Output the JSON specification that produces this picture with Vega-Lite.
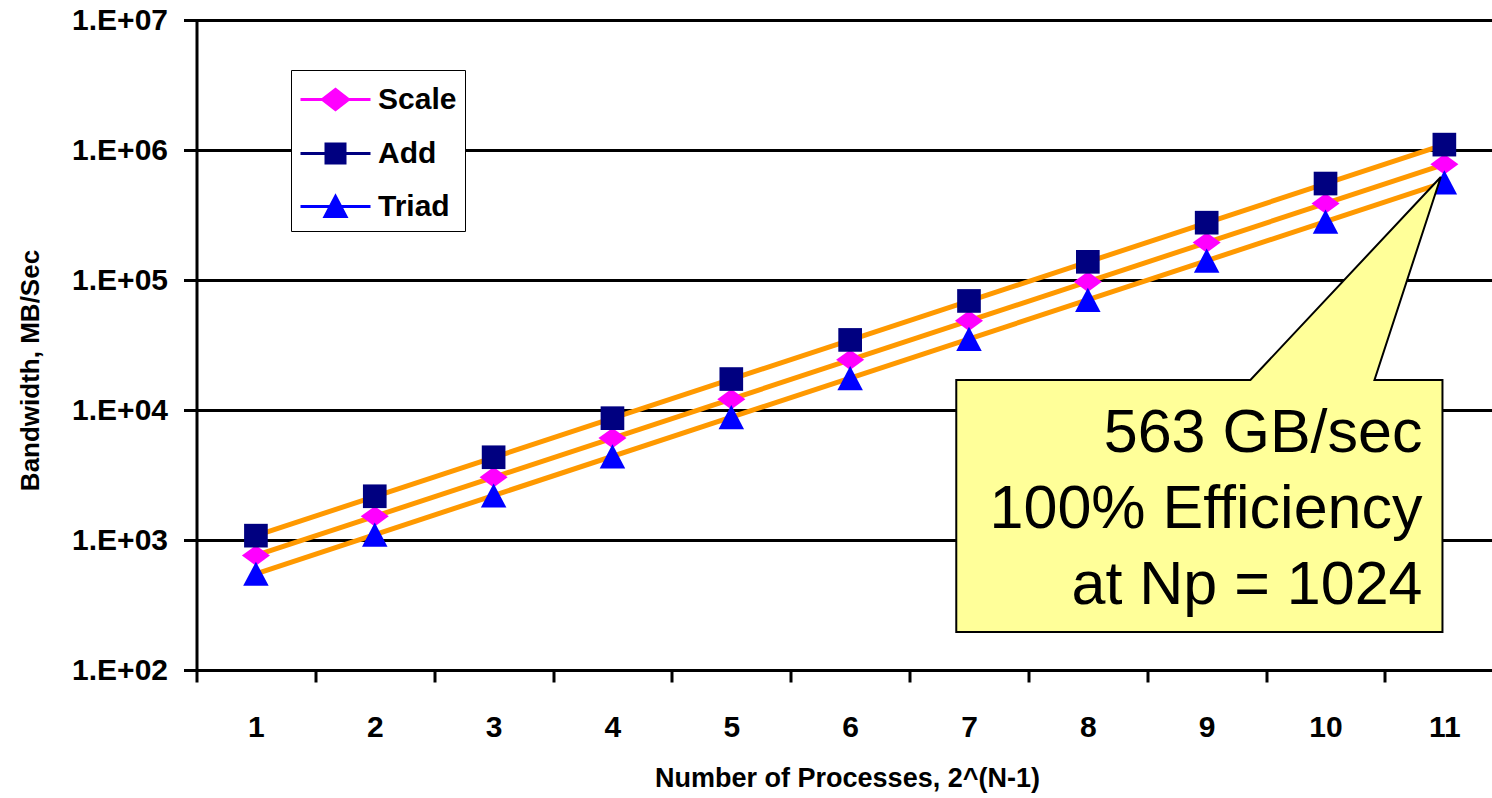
{
  "$schema": "https://vega.github.io/schema/vega-lite/v6.json",
  "width": 1296,
  "height": 650,
  "autosize": {"type": "none"},
  "padding": {"left": 196.5, "top": 20, "right": 0, "bottom": 128},
  "background": "white",
  "config": {"view": {"stroke": null}, "font": "Liberation Sans"},
  "datasets": {
    "pts": [
      {"series": "Scale", "n": 1, "bw": 760}, {"series": "Add", "n": 1, "bw": 1080}, {"series": "Triad", "n": 1, "bw": 550},
      {"series": "Scale", "n": 2, "bw": 1520}, {"series": "Add", "n": 2, "bw": 2170}, {"series": "Triad", "n": 2, "bw": 1100},
      {"series": "Scale", "n": 3, "bw": 3040}, {"series": "Add", "n": 3, "bw": 4330}, {"series": "Triad", "n": 3, "bw": 2200},
      {"series": "Scale", "n": 4, "bw": 6080}, {"series": "Add", "n": 4, "bw": 8650}, {"series": "Triad", "n": 4, "bw": 4400},
      {"series": "Scale", "n": 5, "bw": 12100}, {"series": "Add", "n": 5, "bw": 17300}, {"series": "Triad", "n": 5, "bw": 8800},
      {"series": "Scale", "n": 6, "bw": 24300}, {"series": "Add", "n": 6, "bw": 34600}, {"series": "Triad", "n": 6, "bw": 17600},
      {"series": "Scale", "n": 7, "bw": 48600}, {"series": "Add", "n": 7, "bw": 69000}, {"series": "Triad", "n": 7, "bw": 35200},
      {"series": "Scale", "n": 8, "bw": 97000}, {"series": "Add", "n": 8, "bw": 138000}, {"series": "Triad", "n": 8, "bw": 70400},
      {"series": "Scale", "n": 9, "bw": 194000}, {"series": "Add", "n": 9, "bw": 276000}, {"series": "Triad", "n": 9, "bw": 141000},
      {"series": "Scale", "n": 10, "bw": 388000}, {"series": "Add", "n": 10, "bw": 552000}, {"series": "Triad", "n": 10, "bw": 281000},
      {"series": "Scale", "n": 11, "bw": 776000}, {"series": "Add", "n": 11, "bw": 1100000}, {"series": "Triad", "n": 11, "bw": 563000}
    ],
    "ideal": [
      {"line": "Scale ideal", "n": 1, "bw": 760}, {"line": "Scale ideal", "n": 11, "bw": 776000},
      {"line": "Add ideal", "n": 1, "bw": 1080}, {"line": "Add ideal", "n": 11, "bw": 1100000},
      {"line": "Triad ideal", "n": 1, "bw": 550}, {"line": "Triad ideal", "n": 11, "bw": 563000}
    ],
    "callout": [
      {"o": 1, "n": 6.893, "bw": 17012},
      {"o": 2, "n": 9.368, "bw": 17012},
      {"o": 3, "n": 10.97, "bw": 620000},
      {"o": 4, "n": 10.412, "bw": 17012},
      {"o": 5, "n": 10.984, "bw": 17012},
      {"o": 6, "n": 10.984, "bw": 196},
      {"o": 7, "n": 6.893, "bw": 196}
    ],
    "note": [{"label": "563 GB/sec\n100% Efficiency\nat Np = 1024"}]
  },
  "layer": [
    {
      "data": {"name": "ideal"},
      "mark": {"type": "line", "stroke": "#FF9900", "strokeWidth": 5},
      "encoding": {
        "x": {
          "field": "n", "type": "quantitative",
          "scale": {"domain": [0.5, 11.405], "nice": false, "zero": false},
          "axis": {
            "title": "Number of Processes, 2^(N-1)",
            "values": [0.5, 1, 1.5, 2, 2.5, 3, 3.5, 4, 4.5, 5, 5.5, 6, 6.5, 7, 7.5, 8, 8.5, 9, 9.5, 10, 10.5, 11],
            "labelExpr": "datum.value % 1 === 0 ? format(datum.value, 'd') : ''",
            "tickOpacity": {"condition": {"test": "datum.value % 1 === 0", "value": 0}, "value": 1},
            "grid": false,
            "domainColor": "black", "domainWidth": 3,
            "tickColor": "black", "tickWidth": 3, "tickSize": 12,
            "labelFont": "Liberation Sans", "labelFontSize": 30, "labelFontWeight": "bold", "labelColor": "black",
            "labelPadding": 30, "labelFlush": false, "labelOverlap": false, "labelBound": false,
            "titleFont": "Liberation Sans", "titleFontSize": 27, "titleFontWeight": "bold", "titleColor": "black",
            "titleX": 650.5, "titleY": 108, "titleAlign": "center", "titleBaseline": "middle"
          }
        },
        "y": {
          "field": "bw", "type": "quantitative",
          "scale": {"type": "log", "domain": [100, 10000000], "nice": false},
          "axis": {
            "title": "Bandwidth, MB/Sec",
            "values": [100, 1000, 10000, 100000, 1000000, 10000000],
            "labelExpr": "'1.E+0' + round(log(datum.value) / LN10)",
            "grid": true, "gridColor": "black", "gridWidth": 3, "gridOpacity": 1,
            "domainColor": "black", "domainWidth": 3,
            "tickColor": "black", "tickWidth": 3, "tickSize": 13,
            "labelFont": "Liberation Sans", "labelFontSize": 30, "labelFontWeight": "bold", "labelColor": "black",
            "labelPadding": 16, "labelFlush": false, "labelOverlap": false, "labelBound": false,
            "titleFont": "Liberation Sans", "titleFontSize": 26, "titleFontWeight": "bold", "titleColor": "black",
            "titleAngle": -90, "titleX": -166.5, "titleY": 350, "titleAlign": "center", "titleBaseline": "middle"
          }
        },
        "detail": {"field": "line"}
      }
    },
    {
      "data": {"name": "pts"},
      "transform": [{"filter": "datum.series === 'Scale'"}],
      "mark": {"type": "point", "filled": true, "opacity": 1, "size": 650, "strokeWidth": 0, "color": "#FF00FF", "shape": "M-1.1,0L0,-0.8L1.1,0L0,0.8Z"},
      "encoding": {
        "x": {"field": "n", "type": "quantitative"},
        "y": {"field": "bw", "type": "quantitative"}
      }
    },
    {
      "data": {"name": "pts"},
      "transform": [{"filter": "datum.series === 'Add'"}],
      "mark": {"type": "point", "filled": true, "opacity": 1, "size": 560, "strokeWidth": 0, "color": "#000080", "shape": "square"},
      "encoding": {
        "x": {"field": "n", "type": "quantitative"},
        "y": {"field": "bw", "type": "quantitative"}
      }
    },
    {
      "data": {"name": "pts"},
      "transform": [{"filter": "datum.series === 'Triad'"}],
      "mark": {"type": "point", "filled": true, "opacity": 1, "size": 650, "strokeWidth": 0, "color": "#0000FF", "shape": "M0,-0.95L1,0.95L-1,0.95Z"},
      "encoding": {
        "x": {"field": "n", "type": "quantitative"},
        "y": {"field": "bw", "type": "quantitative"}
      }
    },
    {
      "data": {"name": "pts"},
      "transform": [{"filter": "false"}],
      "mark": {"type": "point", "filled": true, "opacity": 1},
      "encoding": {
        "x": {"field": "n", "type": "quantitative"},
        "y": {"field": "bw", "type": "quantitative"},
        "color": {
          "field": "series", "type": "nominal",
          "scale": {"domain": ["Scale", "Add", "Triad"], "range": ["#FF00FF", "#000080", "#0000FF"]},
          "legend": {
            "orient": "none", "legendX": 94.5, "legendY": 50, "title": null,
            "strokeColor": "black", "fillColor": "white", "padding": 8, "cornerRadius": 0,
            "symbolSize": 1600, "symbolStrokeWidth": 3, "rowPadding": 16,
            "symbolOffset": 15, "labelOffset": 21,
            "labelFont": "Liberation Sans", "labelFontSize": 30, "labelFontWeight": "bold", "labelColor": "black"
          }
        },
        "stroke": {
          "field": "series", "type": "nominal",
          "scale": {"domain": ["Scale", "Add", "Triad"], "range": ["#FF00FF", "#000080", "#0000FF"]},
          "legend": {
            "orient": "none", "legendX": 94.5, "legendY": 50, "title": null,
            "strokeColor": "black", "fillColor": "white", "padding": 8, "cornerRadius": 0,
            "symbolSize": 1600, "symbolStrokeWidth": 3, "rowPadding": 16,
            "symbolOffset": 15, "labelOffset": 21,
            "labelFont": "Liberation Sans", "labelFontSize": 30, "labelFontWeight": "bold", "labelColor": "black"
          }
        },
        "shape": {
          "field": "series", "type": "nominal",
          "scale": {"domain": ["Scale", "Add", "Triad"], "range": [
            "M-1.75,0L1.75,0M-0.65,0L0,-0.5L0.65,0L0,0.5Z",
            "M-1.75,0L1.75,0M-0.475,-0.475L0.475,-0.475L0.475,0.475L-0.475,0.475Z",
            "M-1.75,0L1.75,0M0,-0.5L0.525,0.5L-0.525,0.5Z"
          ]},
          "legend": {
            "orient": "none", "legendX": 94.5, "legendY": 50, "title": null,
            "strokeColor": "black", "fillColor": "white", "padding": 8, "cornerRadius": 0,
            "symbolSize": 1600, "symbolStrokeWidth": 3, "rowPadding": 16,
            "symbolOffset": 15, "labelOffset": 21,
            "labelFont": "Liberation Sans", "labelFontSize": 30, "labelFontWeight": "bold", "labelColor": "black"
          }
        }
      }
    },
    {
      "data": {"name": "callout"},
      "mark": {"type": "line", "interpolate": "linear-closed", "fill": "#FFFF99", "stroke": "black", "strokeWidth": 2, "strokeJoin": "miter"},
      "encoding": {
        "x": {"field": "n", "type": "quantitative"},
        "y": {"field": "bw", "type": "quantitative"},
        "order": {"field": "o", "type": "quantitative"}
      }
    },
    {
      "data": {"name": "note"},
      "mark": {"type": "text", "align": "right", "baseline": "alphabetic", "font": "Liberation Sans", "fontSize": 61, "lineHeight": 76, "lineBreak": "\n", "color": "black"},
      "encoding": {
        "x": {"datum": 10.816, "type": "quantitative"},
        "y": {"datum": 4753, "type": "quantitative"},
        "text": {"field": "label"}
      }
    }
  ]
}
